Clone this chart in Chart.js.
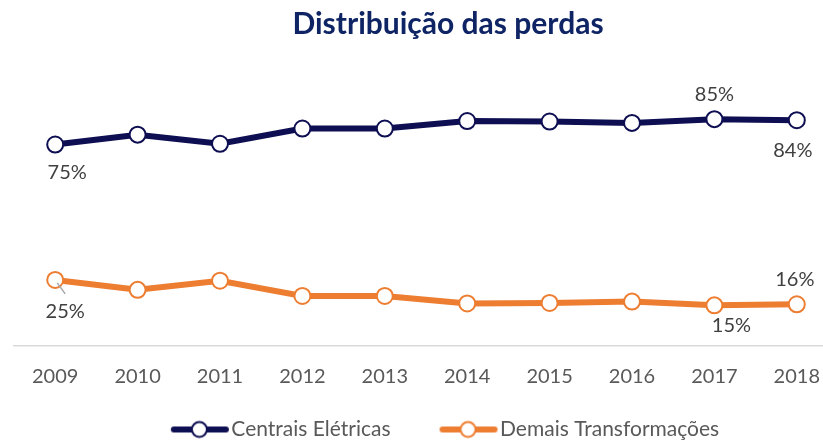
<!DOCTYPE html>
<html><head><meta charset="utf-8">
<script src="https://cdn.jsdelivr.net/npm/chart.js@4/dist/chart.umd.min.js"></script>
<style>html,body{margin:0;padding:0;overflow:hidden;background:#fff;width:823px;height:440px}canvas{display:block}</style>
</head><body>
<canvas id="c" width="900" height="460"></canvas>
<script>
const years = ['2009','2010','2011','2012','2013','2014','2015','2016','2017','2018'];
const centraisEletricas = [75.3, 79.0, 75.6, 81.3, 81.3, 84.1, 83.9, 83.4, 84.8, 84.4];
const demaisTransformacoes = [24.7, 21.0, 24.4, 18.7, 18.7, 15.9, 16.1, 16.6, 15.2, 15.6];
const seriesNames = ['Centrais Elétricas', 'Demais Transformações'];
const chartTitle = 'Distribuição das perdas';
const labeledPoints = [[0, 8, 9], [0, 8, 9]];

const NAVY = '#0e0e52', ORANGE = '#ed7d31';
Chart.defaults.font.family = 'Lato';

function legendMarker(color) {
  const c = document.createElement('canvas');
  c.width = 106; c.height = 20;
  const g = c.getContext('2d');
  g.lineCap = 'round';
  g.strokeStyle = color; g.lineWidth = 6;
  g.beginPath(); g.moveTo(50, 10); g.lineTo(102, 10); g.stroke();
  g.beginPath(); g.arc(75.5, 10, 7.5, 0, Math.PI * 2);
  g.fillStyle = '#fff'; g.fill(); g.lineWidth = 2; g.stroke();
  return c;
}
const markers = [legendMarker(NAVY), legendMarker(ORANGE)];

const labelOffsets = [
  {0: [12, 28], 8: [0, -25], 9: [-4, 30]},
  {0: [10, 32], 8: [17, 20], 9: [-2, -25]}
];

const dataLabelsPlugin = {
  id: 'dataLabelsCustom',
  afterDatasetsDraw(chart) {
    const ctx = chart.ctx;
    ctx.save();
    ctx.font = '20px Lato';
    ctx.fillStyle = '#404040';
    ctx.textAlign = 'center';
    ctx.textBaseline = 'middle';
    chart.data.datasets.forEach((ds, d) => {
      const meta = chart.getDatasetMeta(d);
      labeledPoints[d].forEach(i => {
        const pt = meta.data[i];
        const off = labelOffsets[d][i];
        const v = Math.round(ds.data[i]) + '%';
        ctx.fillText(v, pt.x + off[0], pt.y + off[1]);
        if (d === 1 && i === 0) {
          ctx.strokeStyle = '#a6a6a6'; ctx.lineWidth = 1.5;
          ctx.beginPath(); ctx.moveTo(pt.x + 2, pt.y + 3); ctx.lineTo(pt.x + 10, pt.y + 14); ctx.stroke();
        }
      });
    });
    ctx.restore();
  }
};

new Chart(document.getElementById('c'), {
  type: 'line',
  data: {
    labels: years,
    datasets: [
      {label: seriesNames[0], data: centraisEletricas, borderColor: NAVY, backgroundColor: NAVY,
       borderWidth: 6, pointRadius: 8, pointHoverRadius: 8, pointBorderWidth: 2,
       pointBackgroundColor: '#fff', pointBorderColor: NAVY, tension: 0},
      {label: seriesNames[1], data: demaisTransformacoes, borderColor: ORANGE, backgroundColor: ORANGE,
       borderWidth: 6, pointRadius: 8, pointHoverRadius: 8, pointBorderWidth: 2,
       pointBackgroundColor: '#fff', pointBorderColor: ORANGE, tension: 0}
    ]
  },
  options: {
    responsive: false,
    animation: false,
    devicePixelRatio: 1,
    layout: {padding: {left: 0, right: 4, top: 0, bottom: 10}},
    scales: {
      x: {
        offset: true,
        grid: {display: false, drawTicks: false},
        border: {display: true, color: '#d9d9d9', width: 1.5},
        ticks: {font: {size: 20}, color: '#595959', padding: 19, maxRotation: 0, autoSkip: false}
      },
      y: {
        min: 0, max: 100, position: 'left',
        grid: {display: false, drawTicks: false},
        border: {display: false},
        ticks: {display: false},
        afterFit: s => { s.width = 14; }
      },
      y2: {
        min: 0, max: 100, position: 'right',
        grid: {display: false, drawTicks: false},
        border: {display: false},
        ticks: {display: false},
        afterFit: s => { s.width = 58; }
      }
    },
    plugins: {
      title: {display: true, text: chartTitle, color: '#0f2464',
              font: {size: 30, weight: 'bold'}, padding: {top: 6, bottom: 36.5}},
      legend: {
        position: 'bottom',
        fullSize: false,
        labels: {
          usePointStyle: true, pointStyleWidth: 88, padding: 11,
          font: {size: 21}, color: '#595959',
          generateLabels(chart) {
            const items = Chart.defaults.plugins.legend.labels.generateLabels(chart);
            items.forEach((it, i) => { it.pointStyle = markers[i]; it.fontColor = '#595959'; });
            return items;
          }
        }
      },
      tooltip: {enabled: false}
    }
  },
  plugins: [dataLabelsPlugin]
});
</script>
</body></html>
